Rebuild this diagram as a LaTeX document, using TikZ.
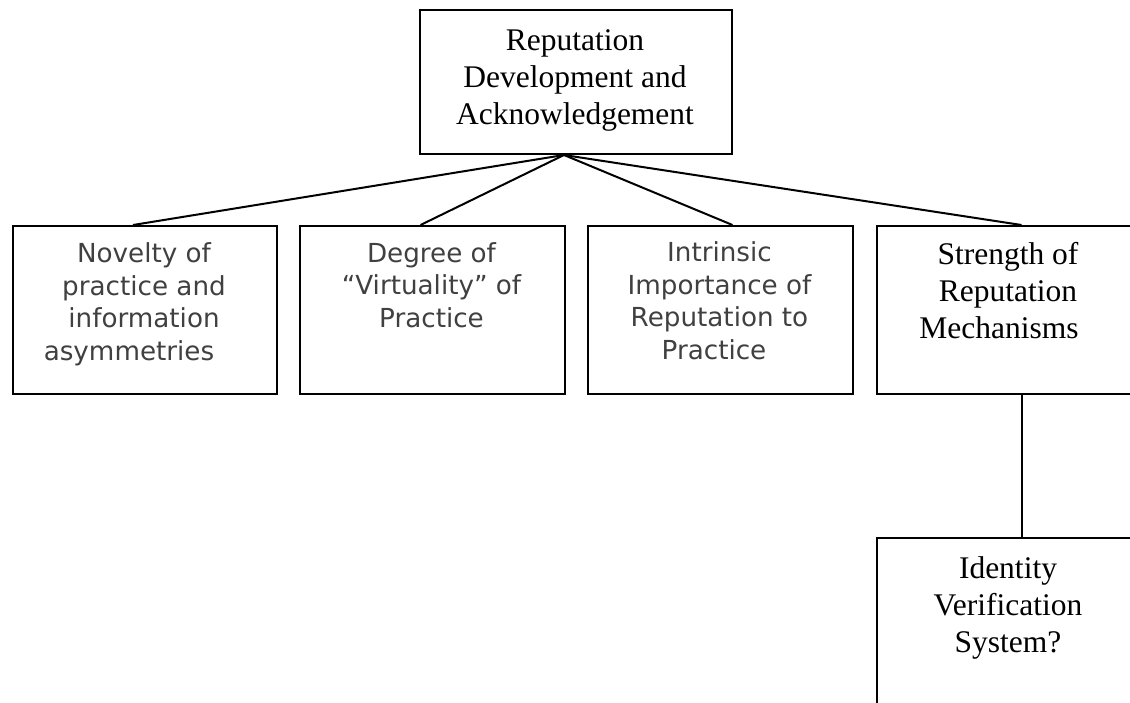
\documentclass[tikz,border=0pt]{standalone}
\usepackage{fontspec}
\setmainfont{Liberation Serif}
\newfontfamily\boxsans{DejaVu Sans}
\definecolor{labelgray}{HTML}{404040}
\begin{document}
\begin{tikzpicture}[x=0.5pt,y=-0.5pt,line width=1pt,
  box/.style={draw,rectangle,inner sep=0pt,anchor=north west,
    minimum width=132.5pt,minimum height=84pt},
  serif/.style={font=\fontsize{15.75pt}{18.5pt}\selectfont,align=center,anchor=base},
  sans/.style={font=\boxsans\fontsize{13.1pt}{16.25pt}\selectfont,text=labelgray,
    align=center,anchor=base}]
\useasboundingbox (0,0) rectangle (1130,702);
\clip (0,0) rectangle (1130,702);

% frames
\node[box,minimum width=156pt,minimum height=72pt] (top) at (419,9) {};
\node[box,minimum width=132pt] (nov) at (12,225) {};
\node[box] (deg) at (299,225) {};
\node[box] (intr) at (587,225) {};
\node[box] (str) at (876,225) {};
\node[box,minimum height=100pt] (idv) at (876,537) {};

% labels (anchored on the baseline of their last line)
\node[serif] (toplbl) at (575,124) {Reputation\\Development and\\Acknowledgement};
\node[sans] (novlbl) at (144,360) {Novelty of\\practice and\\information\\asymmetries\hspace*{15pt}};
\node[sans] (deglbl) at (431.5,327) {Degree of\\“Virtuality” of\\Practice};
\node[sans] (intrlbl) at (719.5,359) {Intrinsic\\Importance of\\Reputation to\\Practice\hspace*{5.5pt}};
\node[serif] (strlbl) at (1008,338) {Strength of\\Reputation\\Mechanisms\hspace*{9pt}};
\node[serif] (idvlbl) at (1008,652) {Identity\\Verification\\System?};

% connectors
\coordinate (apex) at ([xshift=-6pt]top.south);
\draw (apex) -- ([xshift=-6pt]nov.north);
\draw (apex) -- ([xshift=-6pt]deg.north);
\draw (apex) -- ([xshift=6pt]intr.north);
\draw (apex) -- ([xshift=6pt]str.north);
\draw ([xshift=6pt]str.south) -- ([xshift=6pt]idv.north);
\end{tikzpicture}
\end{document}
